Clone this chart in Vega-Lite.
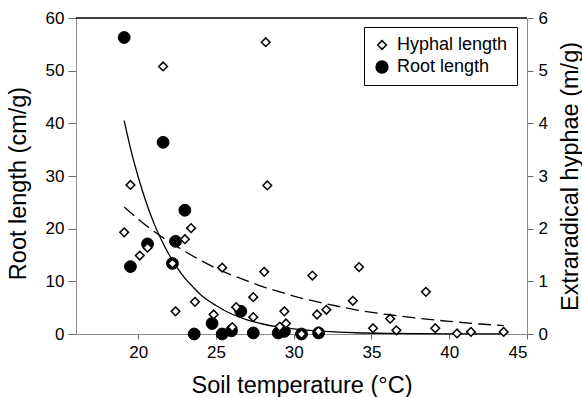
{
  "$schema": "https://vega.github.io/schema/vega-lite/v6.json",
  "width": 451,
  "height": 316,
  "autosize": {"type": "none"},
  "padding": {"left": 76, "top": 18, "right": 55, "bottom": 63},
  "background": "white",
  "config": {
    "font": "Liberation Sans",
    "view": {"stroke": null},
    "axis": {
      "grid": false,
      "domainColor": "#8a8a8a",
      "tickColor": "#6a6a6a",
      "labelColor": "black",
      "titleColor": "black",
      "labelFontSize": 17,
      "titleFontSize": 23.5,
      "titleFontWeight": "normal",
      "labelFont": "Liberation Sans",
      "titleFont": "Liberation Sans"
    },
    "legend": {
      "orient": "none",
      "legendX": 288,
      "legendY": 9,
      "strokeColor": "black",
      "fillColor": "white",
      "padding": 9,
      "labelFontSize": 18,
      "labelFont": "Liberation Sans",
      "labelColor": "black",
      "labelOffset": 6,
      "rowPadding": 4,
      "symbolStrokeColor": "black",
      "symbolStrokeWidth": 1.5
    }
  },
  "datasets": {
    "rootpts": [
      {"t": 19.1, "v": 56.3, "series": "Root length"}, {"t": 19.5, "v": 12.8, "series": "Root length"},
      {"t": 20.6, "v": 17.1, "series": "Root length"}, {"t": 21.6, "v": 36.4, "series": "Root length"},
      {"t": 22.2, "v": 13.4, "series": "Root length"}, {"t": 22.4, "v": 17.6, "series": "Root length"},
      {"t": 23.0, "v": 23.5, "series": "Root length"}, {"t": 23.6, "v": 0, "series": "Root length"},
      {"t": 24.75, "v": 2.0, "series": "Root length"}, {"t": 25.4, "v": 0, "series": "Root length"},
      {"t": 26.0, "v": 0.6, "series": "Root length"}, {"t": 26.6, "v": 4.3, "series": "Root length"},
      {"t": 27.4, "v": 0.2, "series": "Root length"}, {"t": 29.0, "v": 0.2, "series": "Root length"},
      {"t": 29.4, "v": 0.5, "series": "Root length"}, {"t": 30.5, "v": 0, "series": "Root length"},
      {"t": 31.6, "v": 0.2, "series": "Root length"}
    ],
    "hyphpts": [
      {"t": 21.6, "v": 5.08, "series": "Hyphal length"}, {"t": 28.2, "v": 5.54, "series": "Hyphal length"},
      {"t": 19.5, "v": 2.83, "series": "Hyphal length"}, {"t": 19.1, "v": 1.93, "series": "Hyphal length"},
      {"t": 20.1, "v": 1.49, "series": "Hyphal length"}, {"t": 20.6, "v": 1.64, "series": "Hyphal length"},
      {"t": 23.4, "v": 2.01, "series": "Hyphal length"}, {"t": 23.0, "v": 1.80, "series": "Hyphal length"},
      {"t": 22.2, "v": 1.34, "series": "Hyphal length"}, {"t": 25.4, "v": 1.26, "series": "Hyphal length"},
      {"t": 23.65, "v": 0.61, "series": "Hyphal length"}, {"t": 22.4, "v": 0.43, "series": "Hyphal length"},
      {"t": 24.85, "v": 0.37, "series": "Hyphal length"}, {"t": 28.3, "v": 2.82, "series": "Hyphal length"},
      {"t": 28.1, "v": 1.18, "series": "Hyphal length"}, {"t": 31.2, "v": 1.11, "series": "Hyphal length"},
      {"t": 34.2, "v": 1.27, "series": "Hyphal length"}, {"t": 27.4, "v": 0.70, "series": "Hyphal length"},
      {"t": 33.8, "v": 0.63, "series": "Hyphal length"}, {"t": 26.3, "v": 0.51, "series": "Hyphal length"},
      {"t": 27.4, "v": 0.32, "series": "Hyphal length"}, {"t": 29.4, "v": 0.43, "series": "Hyphal length"},
      {"t": 31.5, "v": 0.37, "series": "Hyphal length"}, {"t": 32.1, "v": 0.46, "series": "Hyphal length"},
      {"t": 26.05, "v": 0.13, "series": "Hyphal length"}, {"t": 29.1, "v": 0.14, "series": "Hyphal length"},
      {"t": 29.5, "v": 0.2, "series": "Hyphal length"}, {"t": 30.5, "v": 0.0, "series": "Hyphal length"},
      {"t": 31.6, "v": 0.05, "series": "Hyphal length"}, {"t": 35.1, "v": 0.11, "series": "Hyphal length"},
      {"t": 38.5, "v": 0.80, "series": "Hyphal length"}, {"t": 36.2, "v": 0.29, "series": "Hyphal length"},
      {"t": 36.6, "v": 0.07, "series": "Hyphal length"}, {"t": 39.1, "v": 0.11, "series": "Hyphal length"},
      {"t": 40.5, "v": 0.01, "series": "Hyphal length"}, {"t": 41.4, "v": 0.04, "series": "Hyphal length"},
      {"t": 43.5, "v": 0.04, "series": "Hyphal length"}
    ],
    "rootfit": [
      {"t": 19.1, "v": 40.5}, {"t": 19.5, "v": 35.3}, {"t": 20, "v": 29.8},
      {"t": 20.5, "v": 25.1}, {"t": 21, "v": 21.1}, {"t": 21.5, "v": 17.8},
      {"t": 22, "v": 15.0}, {"t": 22.5, "v": 12.6}, {"t": 23, "v": 10.6},
      {"t": 23.5, "v": 9.0}, {"t": 24, "v": 7.5}, {"t": 25, "v": 5.4},
      {"t": 26, "v": 3.8}, {"t": 27, "v": 2.7}, {"t": 28, "v": 1.9},
      {"t": 29, "v": 1.35}, {"t": 30, "v": 0.96}, {"t": 31, "v": 0.68},
      {"t": 32, "v": 0.48}, {"t": 34, "v": 0.24}, {"t": 36, "v": 0.12},
      {"t": 38, "v": 0.06}, {"t": 40, "v": 0.03}, {"t": 43.5, "v": 0.01}
    ],
    "hyphfit": [
      {"t": 19.1, "v": 2.41}, {"t": 20, "v": 2.18}, {"t": 21, "v": 1.95},
      {"t": 22, "v": 1.75}, {"t": 23, "v": 1.57}, {"t": 24, "v": 1.40},
      {"t": 25, "v": 1.25}, {"t": 26, "v": 1.12}, {"t": 27, "v": 1.01},
      {"t": 28, "v": 0.90}, {"t": 29, "v": 0.81}, {"t": 30, "v": 0.72},
      {"t": 32, "v": 0.58}, {"t": 34, "v": 0.46}, {"t": 36, "v": 0.37},
      {"t": 38, "v": 0.30}, {"t": 40, "v": 0.24}, {"t": 42, "v": 0.19},
      {"t": 43.5, "v": 0.16}
    ],
    "frame": [{"a": 16, "b": 45, "top": 60}]
  },
  "layer": [
    {
      "encoding": {
        "x": {
          "field": "t", "type": "quantitative",
          "scale": {"domain": [16, 45], "nice": false, "zero": false},
          "axis": {
            "title": "Soil temperature (°C)",
            "values": [20, 25, 30, 35, 40, 45],
            "tickSize": 5, "labelPadding": 5,
            "titleX": 225.5, "titleY": 51, "titleBaseline": "middle", "titleAlign": "center"
          }
        },
        "y": {
          "field": "v", "type": "quantitative",
          "scale": {"domain": [0, 60], "nice": false},
          "axis": {
            "title": "Root length (cm/g)", "orient": "left",
            "values": [0, 10, 20, 30, 40, 50, 60],
            "tickSize": 8, "labelPadding": 4,
            "titleAngle": -90, "titleX": -58, "titleY": 165,
            "titleBaseline": "middle", "titleAlign": "center"
          }
        }
      },
      "layer": [
        {
          "data": {"name": "frame"},
          "mark": {"type": "rule", "color": "black", "strokeWidth": 1.5},
          "encoding": {
            "x": {"field": "a", "type": "quantitative"},
            "x2": {"field": "b"},
            "y": {"field": "top", "type": "quantitative"}
          }
        },
        {
          "data": {"name": "rootfit"},
          "mark": {"type": "line", "color": "black", "strokeWidth": 1.3, "interpolate": "monotone"}
        },
        {
          "data": {"name": "rootpts"},
          "mark": {"type": "point", "filled": true, "strokeWidth": 1, "opacity": 1},
          "encoding": {
            "shape": {"field": "series", "type": "nominal", "title": null,
              "scale": {"domain": ["Hyphal length", "Root length"], "range": ["diamond", "circle"]}},
            "fill": {"field": "series", "type": "nominal", "title": null,
              "scale": {"domain": ["Hyphal length", "Root length"], "range": ["white", "black"]}},
            "stroke": {"field": "series", "type": "nominal", "title": null,
              "scale": {"domain": ["Hyphal length", "Root length"], "range": ["black", "black"]}},
            "size": {"field": "series", "type": "nominal", "title": null,
              "scale": {"domain": ["Hyphal length", "Root length"], "range": [75, 140]}}
          }
        }
      ]
    },
    {
      "encoding": {
        "x": {"field": "t", "type": "quantitative"},
        "y": {
          "field": "v", "type": "quantitative",
          "scale": {"domain": [0, 6], "nice": false},
          "axis": {
            "title": "Extraradical hyphae (m/g)", "orient": "right",
            "values": [0, 1, 2, 3, 4, 5, 6],
            "tickSize": 6, "labelPadding": 5,
            "titleAngle": -90, "titleX": 43, "titleY": 158,
            "titleBaseline": "middle", "titleAlign": "center"
          }
        }
      },
      "layer": [
        {
          "data": {"name": "hyphfit"},
          "mark": {"type": "line", "color": "black", "strokeWidth": 1.3, "strokeDash": [13, 6], "interpolate": "monotone"}
        },
        {
          "data": {"name": "hyphpts"},
          "mark": {"type": "point", "filled": true, "strokeWidth": 1.5, "opacity": 1},
          "encoding": {
            "shape": {"field": "series", "type": "nominal", "title": null},
            "fill": {"field": "series", "type": "nominal", "title": null},
            "stroke": {"field": "series", "type": "nominal", "title": null},
            "size": {"field": "series", "type": "nominal", "title": null}
          }
        }
      ]
    }
  ],
  "resolve": {"scale": {"y": "independent"}, "axis": {"y": "independent"}}
}
